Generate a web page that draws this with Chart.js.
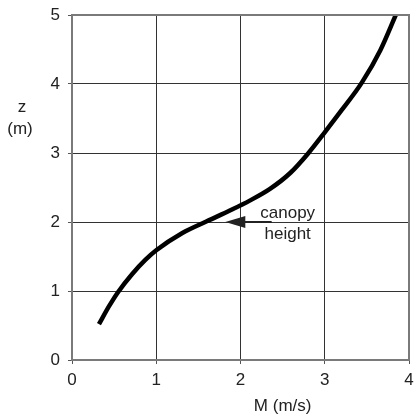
<!DOCTYPE html>
<html>
<head>
<meta charset="utf-8">
<script src="https://cdn.jsdelivr.net/npm/chart.js@4"></script>
<style>
  html, body { margin: 0; padding: 0; background: #fff; }
  #wrap { width: 414px; height: 414px; }
</style>
</head>
<body>
<div id="wrap"><canvas id="chart" width="414" height="414"></canvas></div>
<script>
// profile: speed M (m/s) vs height z (m)
const speedM = [0.32, 0.44, 0.55, 0.71, 0.87, 1.0, 1.31, 1.6, 1.88, 2.11, 2.35, 2.59, 2.8, 3.0, 3.2, 3.44, 3.66, 3.85]
const heightZ = [0.52, 0.78, 0.99, 1.24, 1.45, 1.59, 1.84, 2.01, 2.17, 2.31, 2.48, 2.71, 2.99, 3.3, 3.62, 4.02, 4.49, 5.02]

const xTicks = [0, 1, 2, 3, 4]
const yTicks = [0, 1, 2, 3, 4, 5]

// annotation: arrow pointing at canopy height
const canopyZ = 2
const arrowFrom = 2.37
const arrowTo = 1.82
const noteLines = ['canopy', 'height']
const noteX = 2.56
const noteY = [2.06, 1.75]

const FONT = '"Liberation Sans", Arial, Helvetica, sans-serif'

const points = speedM.map((m, i) => ({ x: m, y: heightZ[i] }))

const extras = {
  id: 'extras',
  afterDraw(chart) {
    const { ctx, chartArea: a, scales: { x, y } } = chart
    ctx.save()
    // frame
    ctx.strokeStyle = '#7a7a7a'
    ctx.lineWidth = 2
    ctx.strokeRect(a.left, a.top, a.right - a.left, a.bottom - a.top)

    // arrow
    const yy = y.getPixelForValue(canopyZ)
    const x0 = x.getPixelForValue(arrowFrom)
    const x1 = x.getPixelForValue(arrowTo)
    ctx.strokeStyle = '#222'
    ctx.lineWidth = 2
    ctx.beginPath()
    ctx.moveTo(x0, yy)
    ctx.lineTo(x1 + 18, yy)
    ctx.stroke()
    ctx.fillStyle = '#222'
    ctx.beginPath()
    ctx.moveTo(x1, yy)
    ctx.lineTo(x1 + 20, yy - 6)
    ctx.lineTo(x1 + 20, yy + 6)
    ctx.closePath()
    ctx.fill()

    ctx.font = '17px ' + FONT
    ctx.fillStyle = '#222'
    ctx.textAlign = 'center'
    ctx.textBaseline = 'alphabetic'
    noteLines.forEach((t, i) => {
      ctx.fillText(t, x.getPixelForValue(noteX), y.getPixelForValue(noteY[i]))
    })

    // axis titles
    ctx.fillText('z', 22, 112)
    ctx.fillText('(m)', 20, 134)
    ctx.fillText('M (m/s)', x.getPixelForValue(2.5), 411)
    ctx.restore()
  }
}

new Chart(document.getElementById('chart'), {
  type: 'line',
  data: {
    datasets: [{
      data: points,
      borderColor: '#000',
      borderWidth: 4.5,
      pointRadius: 0,
      cubicInterpolationMode: 'monotone',
      fill: false
    }]
  },
  options: {
    responsive: false,
    animation: false,
    layout: { padding: { top: 15, right: 5, left: 0, bottom: 0 } },
    plugins: { legend: { display: false }, tooltip: { enabled: false } },
    scales: {
      x: {
        type: 'linear',
        min: 0, max: 4,
        afterBuildTicks: s => { s.ticks = xTicks.map(v => ({ value: v })) },
        afterFit: s => { s.height = 54; s.paddingLeft = 0; s.paddingRight = 0 },
        grid: { color: '#333', lineWidth: 1, tickLength: 4, tickColor: '#555' },
        border: { display: false },
        ticks: { color: '#222', font: { family: FONT, size: 17 }, padding: 6 }
      },
      y: {
        type: 'linear',
        min: 0, max: 5,
        afterBuildTicks: s => { s.ticks = yTicks.map(v => ({ value: v })) },
        afterFit: s => { s.width = 72; s.paddingTop = 0; s.paddingBottom = 0 },
        grid: { color: '#333', lineWidth: 1, tickLength: 4, tickColor: '#555' },
        border: { display: false },
        ticks: { color: '#222', font: { family: FONT, size: 17 }, padding: 8 }
      }
    }
  },
  plugins: [extras]
})
</script>
</body>
</html>
